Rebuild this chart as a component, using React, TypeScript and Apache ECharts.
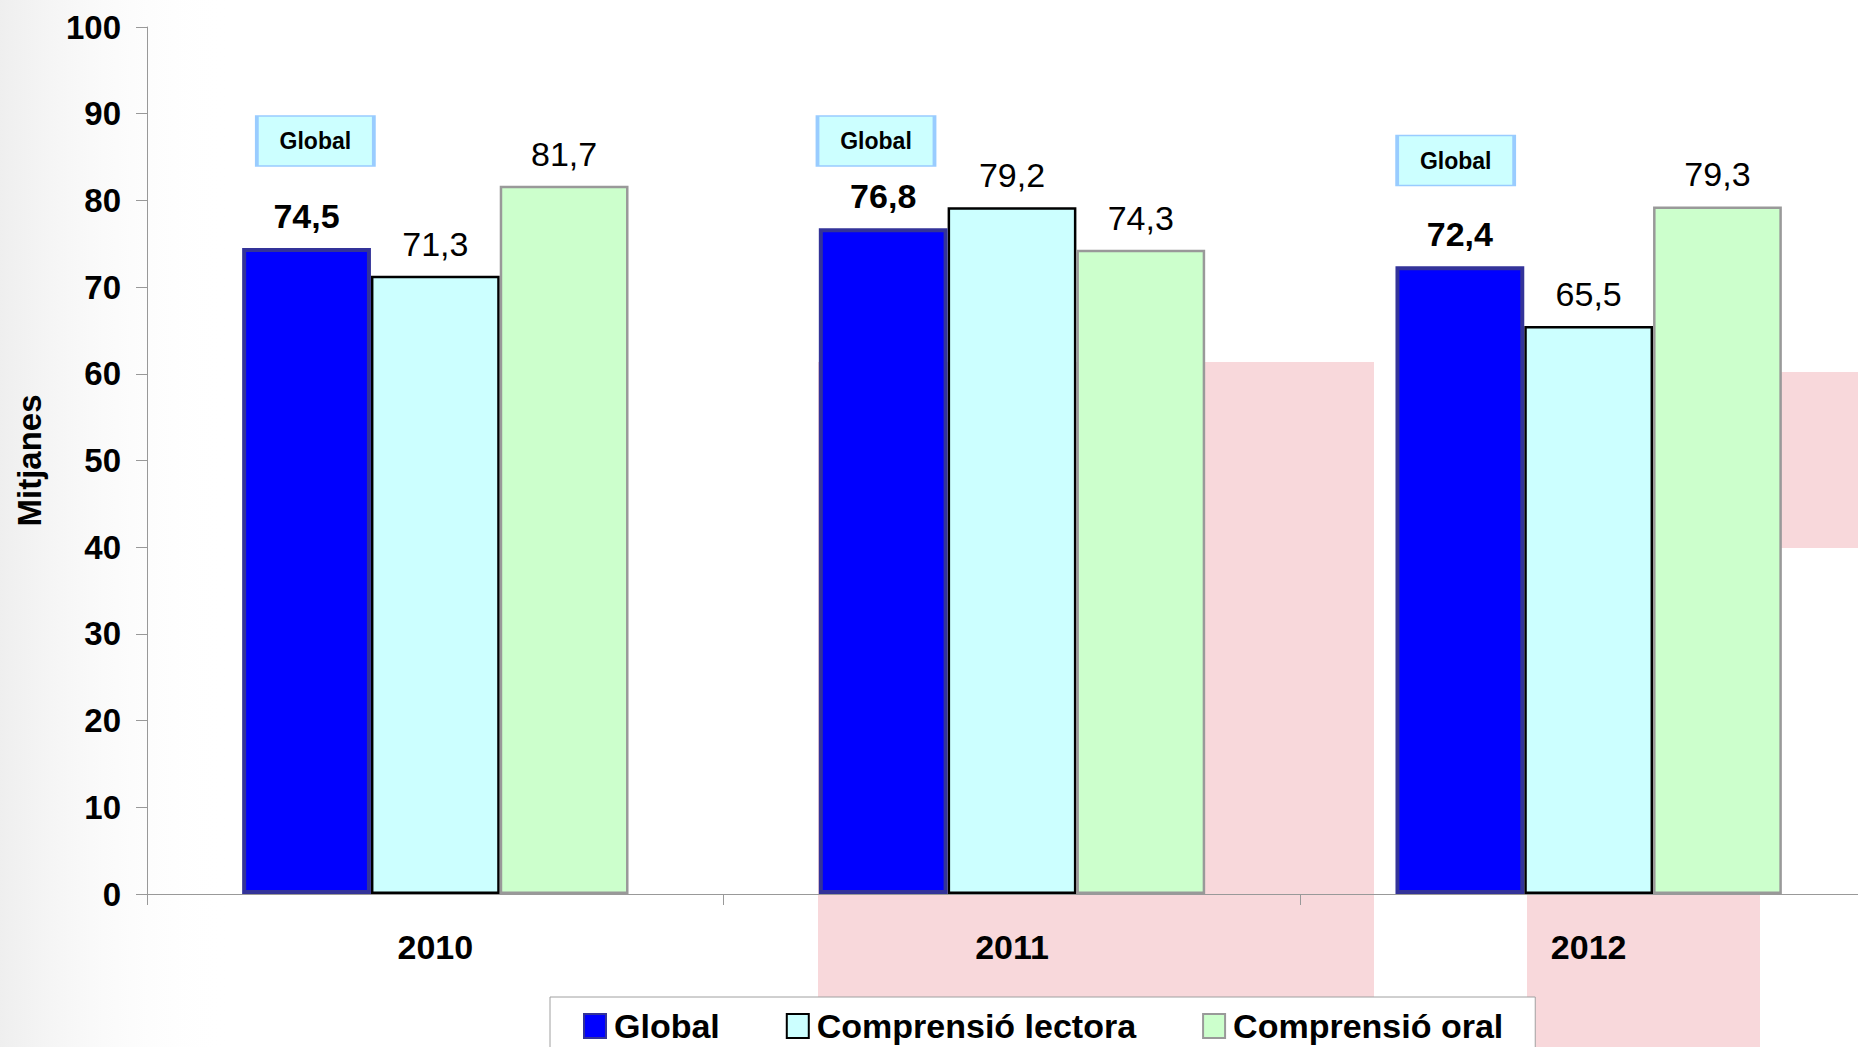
import React, { useEffect, useRef } from "react";
import * as echarts from "echarts";

const categories = ["2010", "2011", "2012"];
const globalValues = [74.5, 76.8, 72.4];
const lectoraValues = [71.3, 79.2, 65.5];
const oralValues = [81.7, 74.3, 79.3];
// Level (in axis units) where each "Global" annotation box is centred
const globalBoxLevels = [86.85, 86.85, 84.6];
const seriesNames = ["Global", "Comprensió lectora", "Comprensió oral"];
const yTicks = { min: 0, max: 100, interval: 10 };

const FONT = "'Liberation Sans', Arial, Helvetica, sans-serif";

const fmt = (v: number) => v.toFixed(1).replace(".", ",");

export default function App() {
  const ref = useRef<HTMLDivElement>(null);

  useEffect(() => {
    if (!ref.current) return;
    const chart = echarts.init(ref.current, null, { renderer: "svg" });

    const barLabel = (bold: boolean) => ({
      show: true,
      position: "top",
      distance: 15,
      color: "#000",
      fontFamily: FONT,
      fontSize: 34,
      fontWeight: bold ? "bold" : "normal",
      formatter: (p: any) => fmt(p.value),
    });

    // per-year horizontal nudge of the annotation box relative to the category centre
    const boxNudge = [-120, -136, -133];

    const pink = "#f8d8db";
    const option: any = {
      animation: false,
      backgroundColor: "#ffffff",
      textStyle: { fontFamily: FONT },
      graphic: [
        {
          type: "rect",
          z: -10,
          silent: true,
          shape: { x: 0, y: 0, width: 230, height: 1047 },
          style: {
            fill: new echarts.graphic.LinearGradient(0, 0, 1, 0, [
              { offset: 0, color: "rgba(225,225,225,0.55)" },
              { offset: 1, color: "rgba(255,255,255,0)" },
            ]),
          },
        },
        {
          type: "rect",
          z: -10,
          silent: true,
          shape: { x: 818, y: 362, width: 556, height: 685 },
          style: { fill: pink },
        },
        {
          type: "rect",
          z: -10,
          silent: true,
          shape: { x: 1527, y: 380, width: 233, height: 667 },
          style: { fill: pink },
        },
        {
          type: "rect",
          z: -10,
          silent: true,
          shape: { x: 1781, y: 372, width: 100, height: 176 },
          style: { fill: pink },
        },
      ],
      grid: { left: 147, right: 0, top: 27, bottom: 153, containLabel: false },
      legend: {
        data: seriesNames,
        icon: "rect",
        left: 550,
        top: 997,
        orient: "horizontal",
        padding: [12, 32, 12, 33],
        itemGap: 66,
        itemWidth: 22,
        itemHeight: 24,
        backgroundColor: "#ffffff",
        borderColor: "#a0a0a0",
        borderWidth: 1,
        borderRadius: 0,
        textStyle: {
          fontFamily: FONT,
          fontSize: 34,
          fontWeight: "bold",
          color: "#000",
          padding: [0, 0, 0, 3],
        },
      },
      xAxis: {
        type: "category",
        data: categories,
        boundaryGap: true,
        axisLine: { show: true, lineStyle: { color: "#999999", width: 1 } },
        axisTick: { show: true, length: 11, lineStyle: { color: "#999999" } },
        axisLabel: {
          margin: 36,
          color: "#000",
          fontFamily: FONT,
          fontSize: 34,
          fontWeight: "bold",
        },
        splitLine: { show: false },
      },
      yAxis: {
        type: "value",
        min: yTicks.min,
        max: yTicks.max,
        interval: yTicks.interval,
        name: "Mitjanes",
        nameLocation: "middle",
        nameGap: 101,
        nameRotate: 90,
        nameTextStyle: {
          color: "#000",
          fontFamily: FONT,
          fontSize: 33,
          fontWeight: "bold",
        },
        axisLine: { show: true, lineStyle: { color: "#999999", width: 1 } },
        axisTick: { show: true, length: 11, lineStyle: { color: "#999999" } },
        axisLabel: {
          margin: 26,
          color: "#000",
          fontFamily: FONT,
          fontSize: 33,
          fontWeight: "bold",
        },
        splitLine: { show: false },
      },
      series: [
        {
          name: seriesNames[0],
          type: "bar",
          data: globalValues,
          barGap: "0%",
          barCategoryGap: "33%",
          itemStyle: { color: "#0000ff", borderColor: "#333399", borderWidth: 4 },
          label: barLabel(true),
          z: 3,
        },
        {
          name: seriesNames[1],
          type: "bar",
          data: lectoraValues,
          barGap: "0%",
          barCategoryGap: "33%",
          itemStyle: { color: "#ccffff", borderColor: "#000000", borderWidth: 2.5 },
          label: barLabel(false),
          z: 2,
        },
        {
          name: seriesNames[2],
          type: "bar",
          data: oralValues,
          barGap: "0%",
          barCategoryGap: "33%",
          itemStyle: { color: "#ccffcc", borderColor: "#999999", borderWidth: 2.5 },
          label: barLabel(false),
          z: 2,
        },
        {
          name: "GlobalBox",
          type: "scatter",
          silent: true,
          symbol: "rect",
          symbolSize: [117, 50],
          z: 4,
          data: categories.map((c, i) => ({
            value: [c, globalBoxLevels[i]],
            symbolOffset: [boxNudge[i], 0],
          })),
          itemStyle: { color: "#ccffff", borderColor: "#99ccff", borderWidth: 2.5, opacity: 1 },
          label: {
            show: true,
            position: "inside",
            formatter: () => seriesNames[0],
            color: "#000",
            fontFamily: FONT,
            fontSize: 23,
            fontWeight: "bold",
          },
        },
      ],
    };

    chart.setOption(option);
    return () => chart.dispose();
  }, []);

  return (
    <div style={{ position: "absolute", left: 0, top: 0, width: 1858, height: 1047, overflow: "hidden" }}>
      <div ref={ref} style={{ width: 1877, height: 1047 }} />
    </div>
  );
}
